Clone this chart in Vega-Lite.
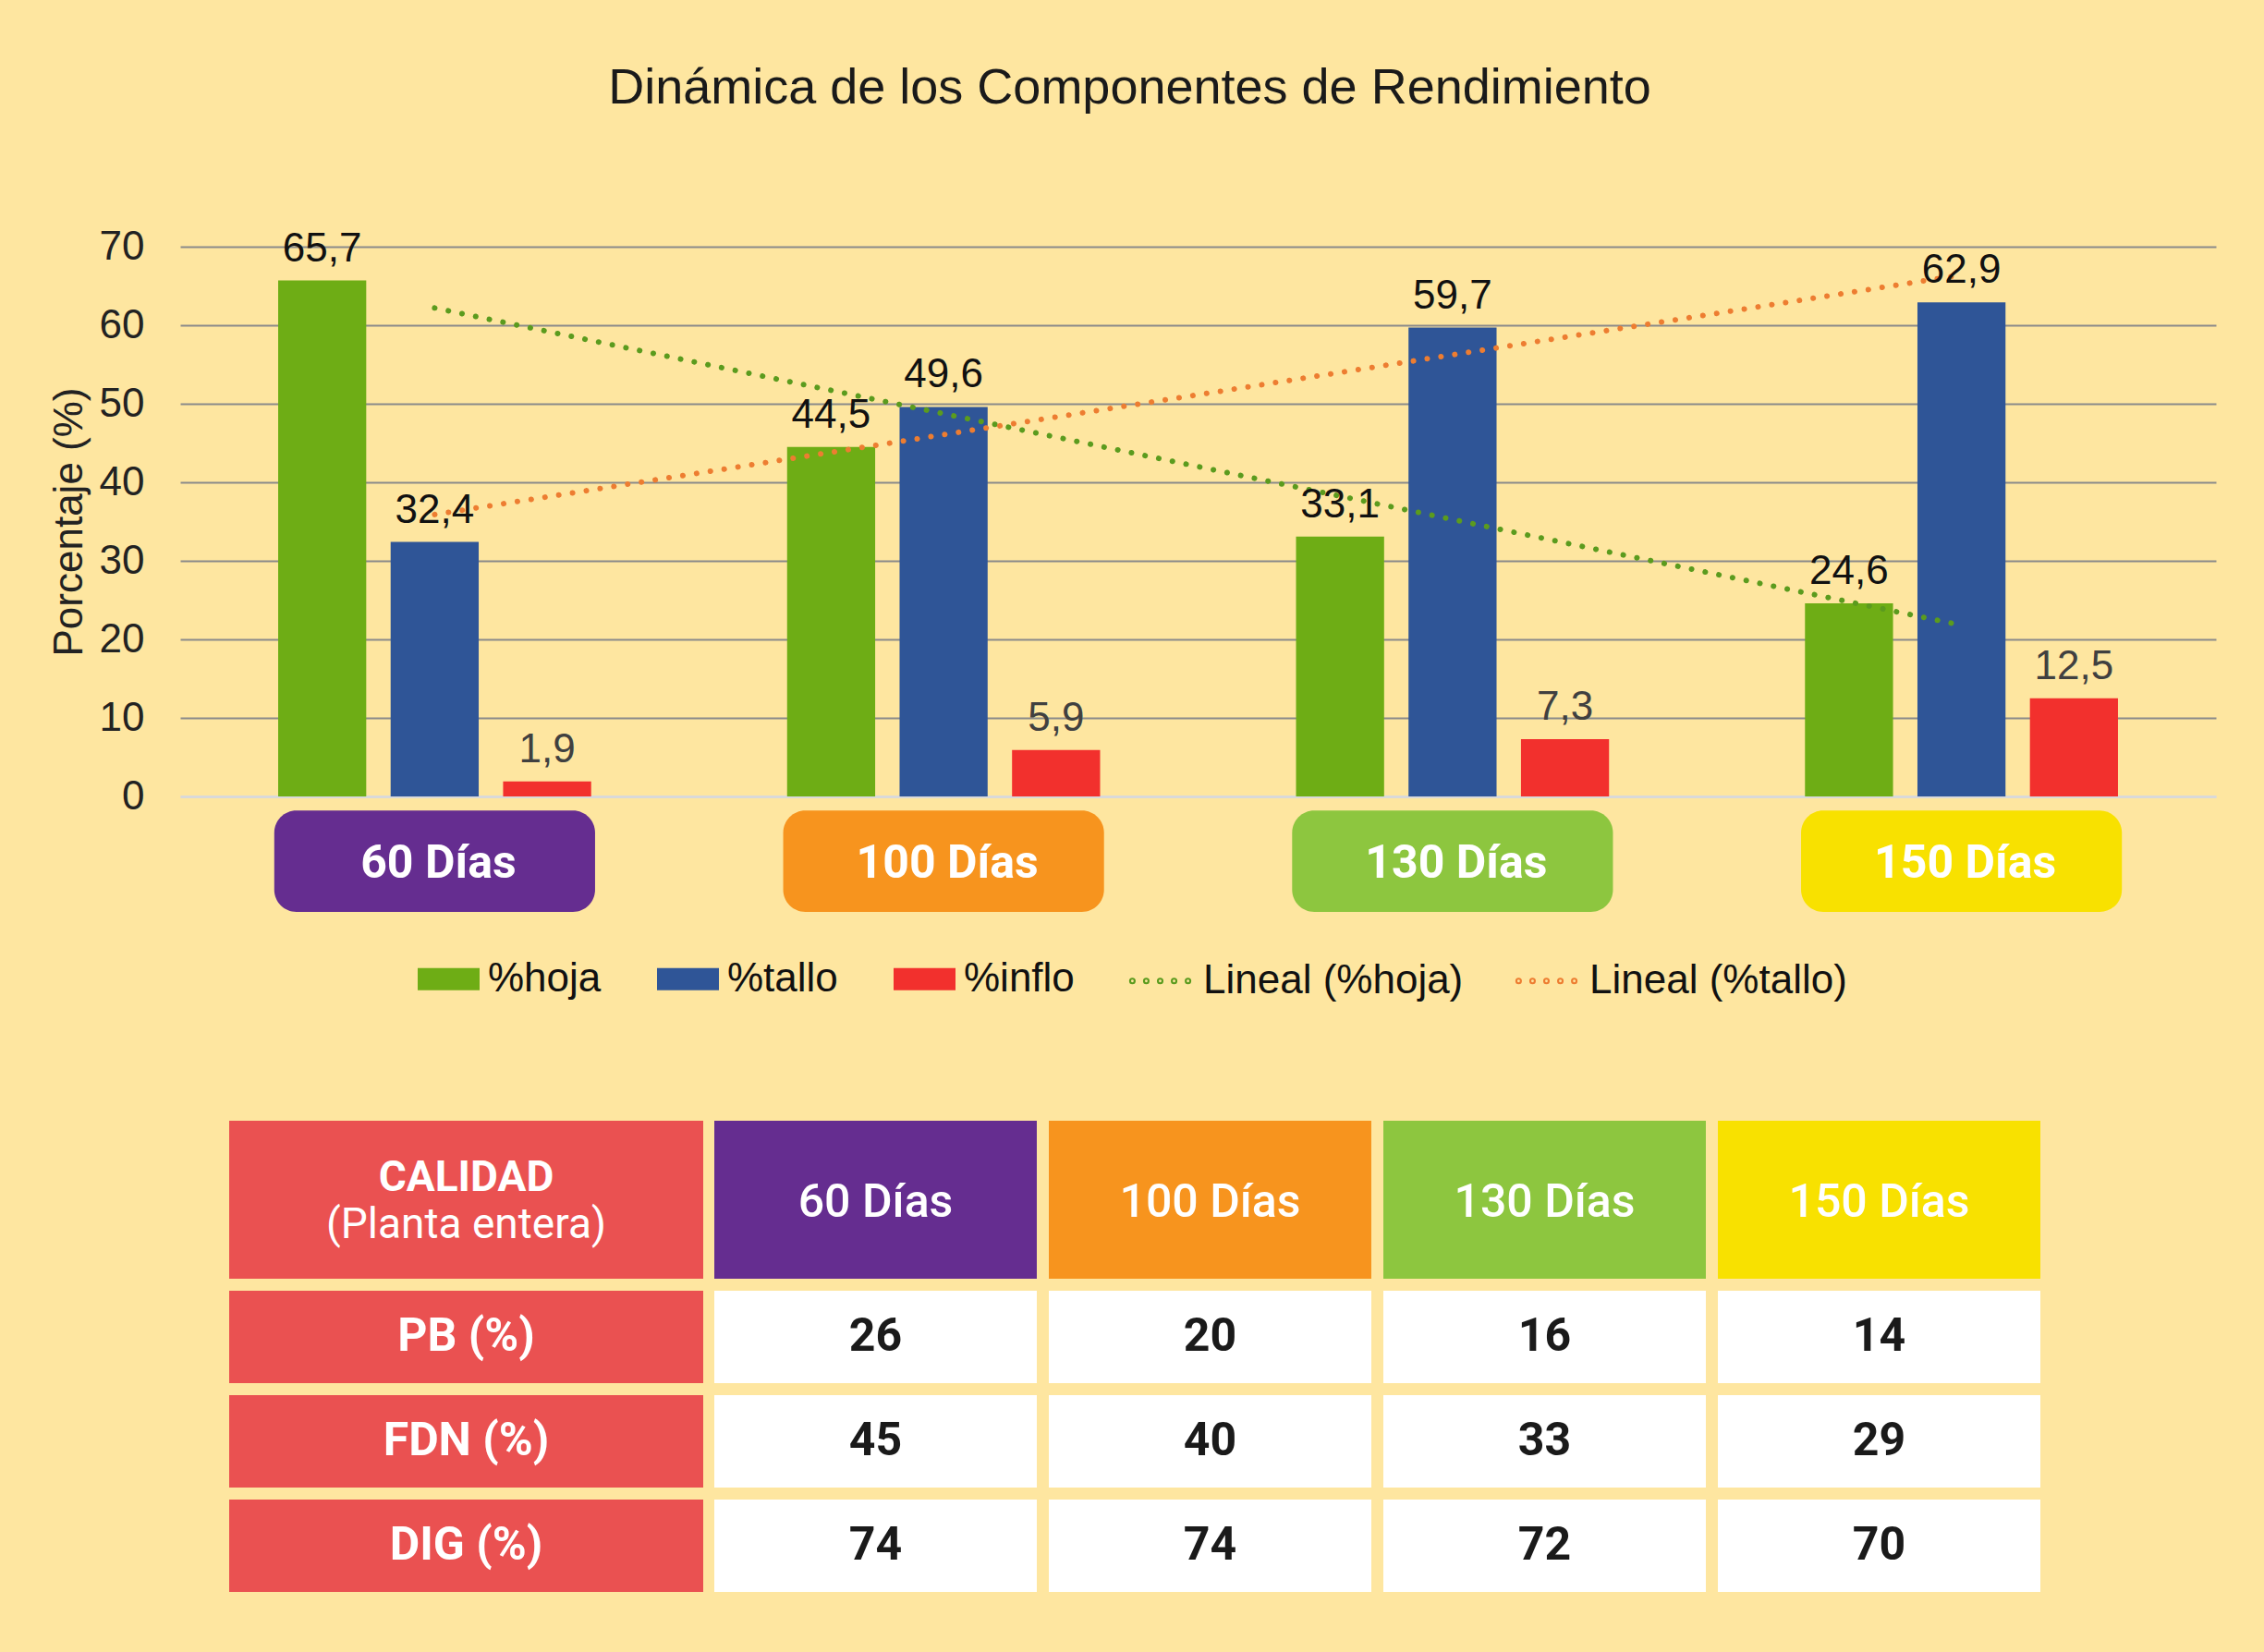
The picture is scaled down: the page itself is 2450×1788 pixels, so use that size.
{
  "$schema": "https://vega.github.io/schema/vega-lite/v6.json",
  "width": 2203,
  "height": 595,
  "autosize": {"type": "none"},
  "padding": {"left": 195, "top": 267, "right": 52, "bottom": 926},
  "background": "#FEE6A0",
  "config": {
    "locale": {"number": {"decimal": ",", "thousands": ".", "grouping": [3], "currency": ["", " €"]}},
    "view": {"stroke": null},
    "font": "Liberation Sans"
  },
  "title": {
    "text": "Dinámica de los Componentes de Rendimiento",
    "font": "Liberation Sans",
    "fontSize": 54,
    "fontWeight": "normal",
    "color": "#1a1a1a",
    "anchor": "middle",
    "dx": -74,
    "offset": 122
  },
  "datasets": {
    "barras": [
      {"dias": "60 Días", "comp": "%hoja", "value": 65.7},
      {"dias": "60 Días", "comp": "%tallo", "value": 32.4},
      {"dias": "60 Días", "comp": "%inflo", "value": 1.9},
      {"dias": "100 Días", "comp": "%hoja", "value": 44.5},
      {"dias": "100 Días", "comp": "%tallo", "value": 49.6},
      {"dias": "100 Días", "comp": "%inflo", "value": 5.9},
      {"dias": "130 Días", "comp": "%hoja", "value": 33.1},
      {"dias": "130 Días", "comp": "%tallo", "value": 59.7},
      {"dias": "130 Días", "comp": "%inflo", "value": 7.3},
      {"dias": "150 Días", "comp": "%hoja", "value": 24.6},
      {"dias": "150 Días", "comp": "%tallo", "value": 62.9},
      {"dias": "150 Días", "comp": "%inflo", "value": 12.5}
    ],
    "tendencia": [
      {"dias": "60 Días", "serie": "Lineal (%hoja)", "value": 62.2},
      {"dias": "150 Días", "serie": "Lineal (%hoja)", "value": 21.8},
      {"dias": "60 Días", "serie": "Lineal (%tallo)", "value": 35.9},
      {"dias": "150 Días", "serie": "Lineal (%tallo)", "value": 66.4}
    ],
    "dias": [
      {"dias": "60 Días", "fila": "CALIDAD"},
      {"dias": "100 Días", "fila": "CALIDAD"},
      {"dias": "130 Días", "fila": "CALIDAD"},
      {"dias": "150 Días", "fila": "CALIDAD"}
    ],
    "calidad": [
      {"param": "PB (%)", "dias": "60 Días", "value": 26},
      {"param": "PB (%)", "dias": "100 Días", "value": 20},
      {"param": "PB (%)", "dias": "130 Días", "value": 16},
      {"param": "PB (%)", "dias": "150 Días", "value": 14},
      {"param": "FDN (%)", "dias": "60 Días", "value": 45},
      {"param": "FDN (%)", "dias": "100 Días", "value": 40},
      {"param": "FDN (%)", "dias": "130 Días", "value": 33},
      {"param": "FDN (%)", "dias": "150 Días", "value": 29},
      {"param": "DIG (%)", "dias": "60 Días", "value": 74},
      {"param": "DIG (%)", "dias": "100 Días", "value": 74},
      {"param": "DIG (%)", "dias": "130 Días", "value": 72},
      {"param": "DIG (%)", "dias": "150 Días", "value": 70}
    ],
    "encabezado": [
      {"columna": "CALIDAD", "fila": "CALIDAD", "h1": "CALIDAD", "h2": "(Planta entera)"}
    ],
    "parametros": [
      {"columna": "CALIDAD", "param": "PB (%)"},
      {"columna": "CALIDAD", "param": "FDN (%)"},
      {"columna": "CALIDAD", "param": "DIG (%)"}
    ]
  },
  "layer": [
    {
      "layer": [
        {
          "data": {"name": "barras"},
          "mark": {"type": "bar"},
          "encoding": {
            "x": {
              "field": "dias", "type": "nominal", "title": null,
              "scale": {"domain": ["60 Días", "100 Días", "130 Días", "150 Días"], "paddingInner": 0.385, "paddingOuter": 0.1925},
              "axis": {"labels": false, "ticks": false, "tickSize": 0, "domain": true, "domainColor": "#D9D9D9", "domainWidth": 3, "grid": false, "title": null}
            },
            "xOffset": {"field": "comp", "type": "nominal", "scale": {"domain": ["%hoja", "%tallo", "%inflo"], "paddingInner": 0.217, "paddingOuter": 0}},
            "y": {
              "field": "value", "type": "quantitative", "title": "Porcentaje (%)",
              "scale": {"domain": [0, 70], "nice": false},
              "axis": {
                "values": [0, 10, 20, 30, 40, 50, 60, 70],
                "ticks": false, "tickSize": 0, "domain": false,
                "labelFont": "Liberation Sans", "labelFontSize": 44, "labelColor": "#222222", "labelPadding": 39,
                "titleFont": "Liberation Sans", "titleFontSize": 44, "titleFontWeight": "normal", "titleColor": "#222222", "titlePadding": 10,
                "gridColor": {"condition": {"test": "datum.value === 0", "value": "#D9D9D9"}, "value": "#8A8A8A"},
                "gridWidth": 2
              }
            },
            "fill": {
              "field": "comp", "type": "nominal",
              "scale": {"domain": ["%hoja", "%tallo", "%inflo"], "range": ["#6EAD15", "#2F5597", "#F2302D"]},
              "legend": {
                "orient": "none", "legendX": 257, "legendY": 759, "direction": "horizontal", "title": null,
                "symbolType": "M-1,-0.36H1V0.36H-1Z", "symbolSize": 4489, "symbolStrokeWidth": 0,
                "labelFont": "Liberation Sans", "labelFontSize": 44, "labelColor": "#111111", "labelOffset": 9,
                "labelLimit": 600, "columnPadding": 60
              }
            }
          }
        },
        {
          "data": {"name": "tendencia"},
          "mark": {"type": "line", "strokeDash": [0.1, 15], "strokeCap": "round", "strokeWidth": 6},
          "encoding": {
            "x": {"field": "dias", "type": "nominal", "title": null},
            "y": {"field": "value", "type": "quantitative", "title": "Porcentaje (%)"},
            "stroke": {
              "field": "serie", "type": "nominal",
              "scale": {"domain": ["Lineal (%hoja)", "Lineal (%tallo)"], "range": ["#5B9B1E", "#ED7D31"]},
              "legend": {
                "orient": "none", "legendX": 1023, "legendY": 757, "direction": "horizontal", "title": null,
                "symbolType": "M-0.89,0a0.03,0.03 0 1,0 0.06,0a0.03,0.03 0 1,0 -0.06,0M-0.46,0a0.03,0.03 0 1,0 0.06,0a0.03,0.03 0 1,0 -0.06,0M-0.03,0a0.03,0.03 0 1,0 0.06,0a0.03,0.03 0 1,0 -0.06,0M0.4,0a0.03,0.03 0 1,0 0.06,0a0.03,0.03 0 1,0 -0.06,0M0.83,0a0.03,0.03 0 1,0 0.06,0a0.03,0.03 0 1,0 -0.06,0",
                "symbolSize": 4900, "symbolStrokeWidth": 5,
                "labelFont": "Liberation Sans", "labelFontSize": 44, "labelColor": "#111111", "labelOffset": 9,
                "labelLimit": 600, "columnPadding": 48
              }
            }
          }
        },
        {
          "data": {"name": "barras"},
          "mark": {"type": "text", "baseline": "alphabetic", "dy": -21, "fontSize": 44, "font": "Liberation Sans"},
          "encoding": {
            "x": {"field": "dias", "type": "nominal", "title": null},
            "xOffset": {"field": "comp", "type": "nominal"},
            "y": {"field": "value", "type": "quantitative", "title": "Porcentaje (%)"},
            "text": {"field": "value", "type": "quantitative", "format": ".1f"},
            "color": {"condition": {"test": "datum.comp === '%inflo'", "value": "#404040"}, "value": "#111111"}
          }
        },
        {
          "data": {"name": "dias"},
          "mark": {"type": "bar", "cornerRadius": 24, "width": {"band": 1.025}},
          "encoding": {
            "x": {"field": "dias", "type": "nominal", "title": null},
            "y": {"datum": -1.8, "type": "quantitative"},
            "y2": {"datum": -14.7},
            "color": {
              "field": "dias", "type": "nominal", "legend": null,
              "scale": {"domain": ["60 Días", "100 Días", "130 Días", "150 Días"], "range": ["#652D90", "#F7941E", "#8DC63F", "#F8E100"]}
            }
          }
        },
        {
          "data": {"name": "dias"},
          "mark": {"type": "text", "font": "Roboto", "fontWeight": "bold", "fontSize": 50, "fill": "#FFFFFF", "baseline": "middle", "dx": 4},
          "encoding": {
            "x": {"field": "dias", "type": "nominal", "title": null},
            "y": {"datum": -8.6, "type": "quantitative"},
            "text": {"field": "dias", "type": "nominal"}
          }
        }
      ]
    },
    {
      "layer": [
        {
          "data": {"name": "dias"},
          "encoding": {
            "x": {"field": "dias", "type": "nominal", "axis": null, "scale": {"type": "band", "domain": ["60 Días", "100 Días", "130 Días", "150 Días"], "range": [578, 2013], "paddingInner": 0.036, "paddingOuter": 0}},
            "y": {"field": "fila", "type": "nominal", "axis": null, "scale": {"type": "band", "range": [946, 1117], "paddingInner": 0, "paddingOuter": 0}}
          },
          "layer": [
            {"mark": {"type": "rect"}, "encoding": {"color": {"field": "dias", "type": "nominal", "legend": null}}},
            {"mark": {"type": "text", "font": "Roboto", "fontWeight": 500, "fontSize": 50, "fill": "#FFFFFF", "baseline": "middle", "dy": 3}, "encoding": {"text": {"field": "dias", "type": "nominal"}}}
          ]
        },
        {
          "data": {"name": "calidad"},
          "encoding": {
            "x": {"field": "dias", "type": "nominal", "axis": null},
            "y": {"field": "param", "type": "nominal", "axis": null, "scale": {"type": "band", "domain": ["PB (%)", "FDN (%)", "DIG (%)"], "range": [1130, 1456], "paddingInner": 0.115, "paddingOuter": 0}}
          },
          "layer": [
            {"mark": {"type": "rect", "fill": "#FFFFFF"}},
            {"mark": {"type": "text", "font": "Roboto", "fontWeight": "bold", "fontSize": 50, "fill": "#1A1A1A", "baseline": "middle"}, "encoding": {"text": {"field": "value", "type": "quantitative"}}}
          ]
        }
      ],
      "resolve": {"scale": {"y": "independent"}}
    },
    {
      "layer": [
        {
          "data": {"name": "encabezado"},
          "encoding": {
            "x": {"field": "columna", "type": "nominal", "axis": null, "scale": {"type": "band", "range": [53, 566], "paddingInner": 0, "paddingOuter": 0}},
            "y": {"field": "fila", "type": "nominal", "axis": null, "scale": {"type": "band", "range": [946, 1117], "paddingInner": 0, "paddingOuter": 0}}
          },
          "layer": [
            {"mark": {"type": "rect", "fill": "#EA5151"}},
            {"mark": {"type": "text", "font": "Roboto", "fontWeight": "bold", "fontSize": 46, "fill": "#FFFFFF", "baseline": "middle", "dy": -24}, "encoding": {"text": {"field": "h1", "type": "nominal"}}},
            {"mark": {"type": "text", "font": "Roboto", "fontWeight": "normal", "fontSize": 46, "fill": "#FFFFFF", "baseline": "middle", "dy": 27}, "encoding": {"text": {"field": "h2", "type": "nominal"}}}
          ]
        },
        {
          "data": {"name": "parametros"},
          "encoding": {
            "x": {"field": "columna", "type": "nominal", "axis": null},
            "y": {"field": "param", "type": "nominal", "axis": null, "scale": {"type": "band", "domain": ["PB (%)", "FDN (%)", "DIG (%)"], "range": [1130, 1456], "paddingInner": 0.115, "paddingOuter": 0}}
          },
          "layer": [
            {"mark": {"type": "rect", "fill": "#EA5151"}},
            {"mark": {"type": "text", "font": "Roboto", "fontWeight": "bold", "fontSize": 50, "fill": "#FFFFFF", "baseline": "middle"}, "encoding": {"text": {"field": "param", "type": "nominal"}}}
          ]
        }
      ],
      "resolve": {"scale": {"y": "independent"}}
    }
  ],
  "resolve": {"scale": {"x": "independent", "y": "independent"}}
}
